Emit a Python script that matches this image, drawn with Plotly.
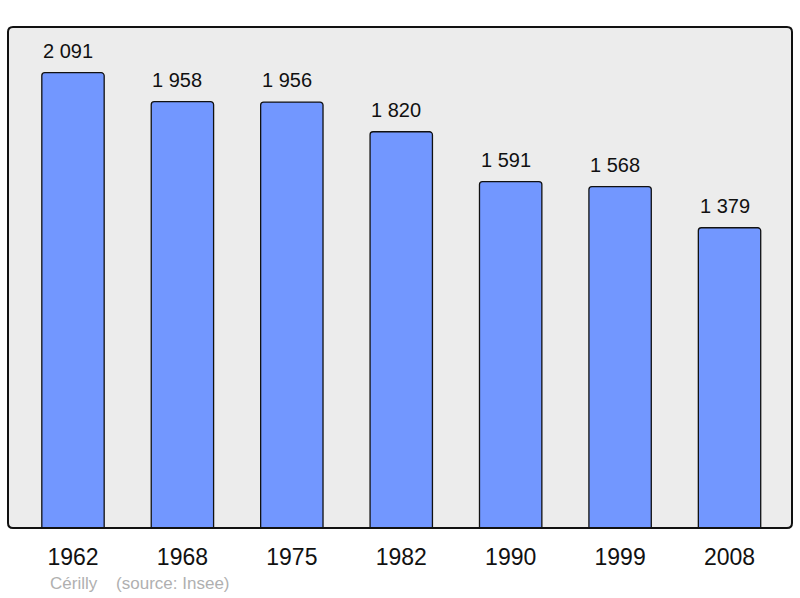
import plotly.graph_objects as go

years = ["1962", "1968", "1975", "1982", "1990", "1999", "2008"]
population = [2091, 1958, 1956, 1820, 1591, 1568, 1379]
labels = ["2 091", "1 958", "1 956", "1 820", "1 591", "1 568", "1 379"]
footer = "Cérilly    (source: Insee)"

W, H = 800, 598
ml, mr, mt, mb = 8, 8, 27, 70
pw, ph = W - ml - mr, H - mt - mb

xs = list(range(len(years)))

fig = go.Figure()
fig.add_trace(go.Bar(
    x=xs, y=population, width=0.57,
    marker=dict(color="#7297ff", line=dict(color="#111111", width=1.3), cornerradius=3),
    hoverinfo="skip",
))

for xi, v, t in zip(xs, population, labels):
    fig.add_annotation(x=xi, y=v, text=t, showarrow=False, yanchor="bottom",
                       yshift=9, xshift=-5, font=dict(size=20, color="#111111"))

# rounded rect path in paper coords
r = 5
rx, ry = r / pw, r / ph
path = (f"M {rx},0 L {1-rx},0 Q 1,0 1,{ry} L 1,{1-ry} Q 1,1 {1-rx},1 "
        f"L {rx},1 Q 0,1 0,{1-ry} L 0,{ry} Q 0,0 {rx},0 Z")
fig.add_shape(type="path", path=path, xref="paper", yref="paper",
              fillcolor="#ececec", line=dict(width=0), layer="below")
fig.add_shape(type="path", path=path, xref="paper", yref="paper",
              fillcolor="rgba(0,0,0,0)", line=dict(color="#111111", width=2), layer="above")

fig.add_annotation(text=footer, xref="paper", yref="paper", x=(48 - ml) / pw, y=-(583 - 528) / ph,
                   xanchor="left", yanchor="middle", showarrow=False,
                   font=dict(size=17, color="#b0b0b0"))

fig.update_layout(
    width=W, height=H,
    margin=dict(l=ml, r=mr, t=mt, b=mb),
    paper_bgcolor="white", plot_bgcolor="rgba(0,0,0,0)",
    font=dict(family="Liberation Sans, Arial, sans-serif"),
    showlegend=False,
    xaxis=dict(range=[-0.594, 6.571], tickvals=xs, ticktext=years, showgrid=False,
               zeroline=False, showline=False, ticks="outside", ticklen=8, tickcolor="rgba(0,0,0,0)",
               tickfont=dict(size=23, color="#111111"),
               fixedrange=True),
    yaxis=dict(range=[0, 2301], showgrid=False, zeroline=False, showticklabels=False,
               showline=False, ticks="", fixedrange=True),
)

fig.write_html("out.html", config={"displayModeBar": False},
               post_script="document.body.style.margin='0';document.body.style.padding='0';")
